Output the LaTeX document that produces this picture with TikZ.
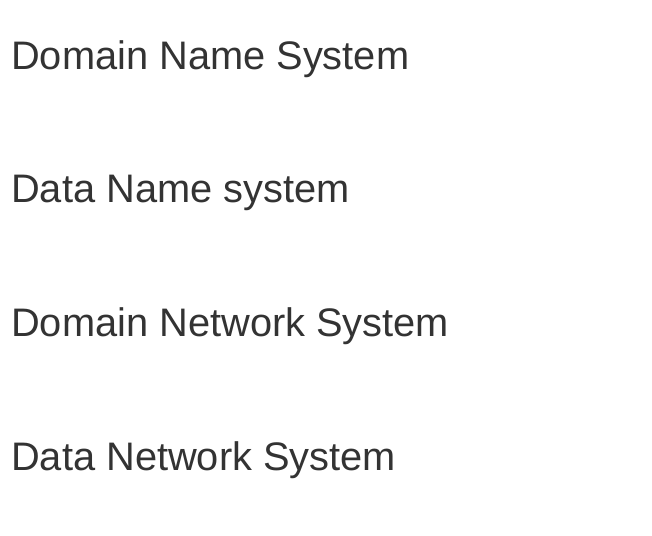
\documentclass[tikz,border=0pt]{standalone}
\usepackage{fontspec}
\setmainfont{Liberation Sans}
\definecolor{optiontext}{HTML}{333333}
\tikzset{option/.style={anchor=base west,inner sep=0pt,text=optiontext,font=\fontsize{39.8}{48}\selectfont}}
\begin{document}
\begin{tikzpicture}[x=1pt,y=-1pt]
\useasboundingbox (0,0) rectangle (652,535);
\node[option] (dns) at (11,69) {Domain Name System};
\node[option] (dnsys) at (11,202.5) {Data Name system};
\node[option] (dnetsys) at (11,336) {Domain Network System};
\node[option] (datanet) at (11,470) {Data Network System};
\end{tikzpicture}
\end{document}
